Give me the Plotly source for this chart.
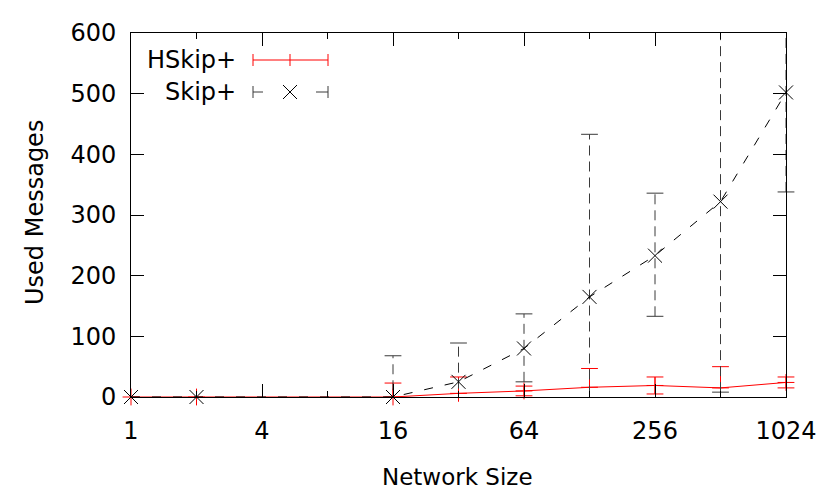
import plotly.graph_objects as go

# ---- data ----
sizes = [1, 2, 16, 32, 64, 128, 256, 512, 1024]

skip_mean = [0, 0, 0, 25, 80, 165, 233, 322, 502]
skip_low = [0, 0, -68, -39, 25, -103, 133, 8, 338]
skip_high = [0, 0, 68, 89, 137, 433, 336, 636, 666]

hskip_mean = [0, 0, 0, 6, 10, 16, 19, 15, 24]
hskip_low = [0, 0, -23, -21, 2, -15, 5, -20, 15]
hskip_high = [0, 0, 23, 33, 18, 47, 33, 50, 33]

x_tickvals = [1, 4, 16, 64, 256, 1024]
x_ticktext = ["1", "4", "16", "64", "256", "1024"]
x_minorvals = [2, 8, 32, 128, 512]

YMIN, YMAX = 0, 600
FONT = "DejaVu Sans"
FS = 24

# ---- layout geometry (window pixels) ----
OFF = 8  # page body margin
WIN_W, WIN_H = 830, 498
L, R, T, B = 131, 44, 33, 101
PW, PH = WIN_W - L - R, WIN_H - T - B


def px(xp):
    return (xp - L) / PW


def py(yp):
    return (WIN_H - B - yp) / PH


def bar_segments(xs, lo, hi):
    bx, by = [], []
    for x, a, b in zip(xs, lo, hi):
        if a == b:
            continue
        bx += [x, x, None]
        by += [a, b, None]
    return bx, by


def bar_caps(xs, lo, hi):
    cx, cy = [], []
    for x, a, b in zip(xs, lo, hi):
        if a == b:
            continue
        for v in (a, b):
            if YMIN <= v <= YMAX:
                cx.append(x)
                cy.append(v)
    return cx, cy


fig = go.Figure()

RED = "#ff0000"
BLK = "#000000"
GRY = "#3a3a3a"

# HSkip+ error bars
bx, by = bar_segments(sizes, hskip_low, hskip_high)
fig.add_trace(go.Scatter(x=bx, y=by, mode="lines",
                         line=dict(color=RED, width=1), showlegend=False,
                         hoverinfo="skip"))
cx, cy = bar_caps(sizes, hskip_low, hskip_high)
fig.add_trace(go.Scatter(x=cx, y=cy, mode="markers", cliponaxis=False,
                         marker=dict(symbol="line-ew", size=12,
                                     line=dict(color=RED, width=1)),
                         showlegend=False, hoverinfo="skip"))
# HSkip+ line
fig.add_trace(go.Scatter(x=sizes, y=hskip_mean, mode="lines+markers",
                         name="HSkip+", cliponaxis=False,
                         line=dict(color=RED, width=1),
                         marker=dict(symbol="cross-thin", size=12,
                                     line=dict(color=RED, width=1)),
                         showlegend=False))

# Skip+ error bars
bx, by = bar_segments(sizes, skip_low, skip_high)
fig.add_trace(go.Scatter(x=bx, y=by, mode="lines",
                         line=dict(color=GRY, width=1, dash="10px,6px"),
                         showlegend=False, hoverinfo="skip"))
cx, cy = bar_caps(sizes, skip_low, skip_high)
fig.add_trace(go.Scatter(x=cx, y=cy, mode="markers", cliponaxis=False,
                         marker=dict(symbol="line-ew", size=12,
                                     line=dict(color=GRY, width=1)),
                         showlegend=False, hoverinfo="skip"))
# Skip+ line
fig.add_trace(go.Scatter(x=sizes, y=skip_mean, mode="lines+markers",
                         name="Skip+", cliponaxis=False,
                         line=dict(color=BLK, width=1, dash="9px,12px"),
                         marker=dict(symbol="x-thin", size=14,
                                     line=dict(color=BLK, width=1)),
                         showlegend=False))

# ---- manual gnuplot-style key ----
shapes = []
annotations = []
key_x0, key_x1, key_xm = 253, 328, 290
rows = [("HSkip+", 60, RED), ("Skip+", 92, GRY)]
for label, yk, col in rows:
    annotations.append(dict(text=label, x=px(238), y=py(yk), xref="paper",
                            yref="paper", xanchor="right", yanchor="middle",
                            showarrow=False, font=dict(family=FONT, size=FS,
                                                       color=BLK)))
    for xe in (key_x0, key_x1):
        shapes.append(dict(type="line", xref="paper", yref="paper",
                           x0=px(xe), x1=px(xe), y0=py(yk - 6), y1=py(yk + 6),
                           line=dict(color=col, width=1)))
shapes.append(dict(type="line", xref="paper", yref="paper",
                   x0=px(key_x0), x1=px(key_x1), y0=py(60), y1=py(60),
                   line=dict(color=RED, width=1)))
shapes.append(dict(type="line", xref="paper", yref="paper",
                   x0=px(key_xm), x1=px(key_xm), y0=py(54), y1=py(66),
                   line=dict(color=RED, width=1)))
for a, b in ((key_x0, key_x0 + 10), (key_x1 - 12, key_x1)):
    shapes.append(dict(type="line", xref="paper", yref="paper",
                       x0=px(a), x1=px(b), y0=py(92), y1=py(92),
                       line=dict(color=GRY, width=1)))
for (ya, yb) in ((85, 99), (99, 85)):
    shapes.append(dict(type="line", xref="paper", yref="paper",
                       x0=px(key_xm - 7), x1=px(key_xm + 7), y0=py(ya),
                       y1=py(yb), line=dict(color=BLK, width=1)))

# axis titles
annotations.append(dict(text="Network Size", x=px(457.5), y=py(477),
                        xref="paper", yref="paper", xanchor="center",
                        yanchor="middle", showarrow=False,
                        font=dict(family=FONT, size=23, color=BLK)))
annotations.append(dict(text="Used Messages", x=px(35), y=py(213),
                        xref="paper", yref="paper", xanchor="center",
                        yanchor="middle", showarrow=False, textangle=-90,
                        font=dict(family=FONT, size=FS, color=BLK)))

fig.update_layout(
    width=WIN_W - OFF, height=WIN_H - OFF,
    margin=dict(l=L - OFF, r=R, t=T - OFF, b=B),
    paper_bgcolor="white", plot_bgcolor="white",
    font=dict(family=FONT, size=FS, color=BLK),
    shapes=shapes, annotations=annotations,
    showlegend=False,
)
fig.update_xaxes(
    type="log", range=[0, 3.0103], tickmode="array",
    tickvals=x_tickvals, ticktext=x_ticktext,
    ticks="inside", ticklen=13, tickcolor=BLK, tickwidth=1,
    showline=True, linecolor=BLK, linewidth=1, mirror="ticks",
    showgrid=False, zeroline=False, ticklabelstandoff=12,
    minor=dict(tickmode="array", tickvals=x_minorvals, ticks="inside",
               ticklen=6, tickcolor=BLK, tickwidth=1, showgrid=False),
)
fig.update_yaxes(
    range=[YMIN, YMAX], dtick=100, tick0=0,
    ticks="inside", ticklen=13, tickcolor=BLK, tickwidth=1,
    showline=True, linecolor=BLK, linewidth=1, mirror="ticks",
    showgrid=False, zeroline=False, ticklabelstandoff=9,
)

fig.write_html("out.html")
